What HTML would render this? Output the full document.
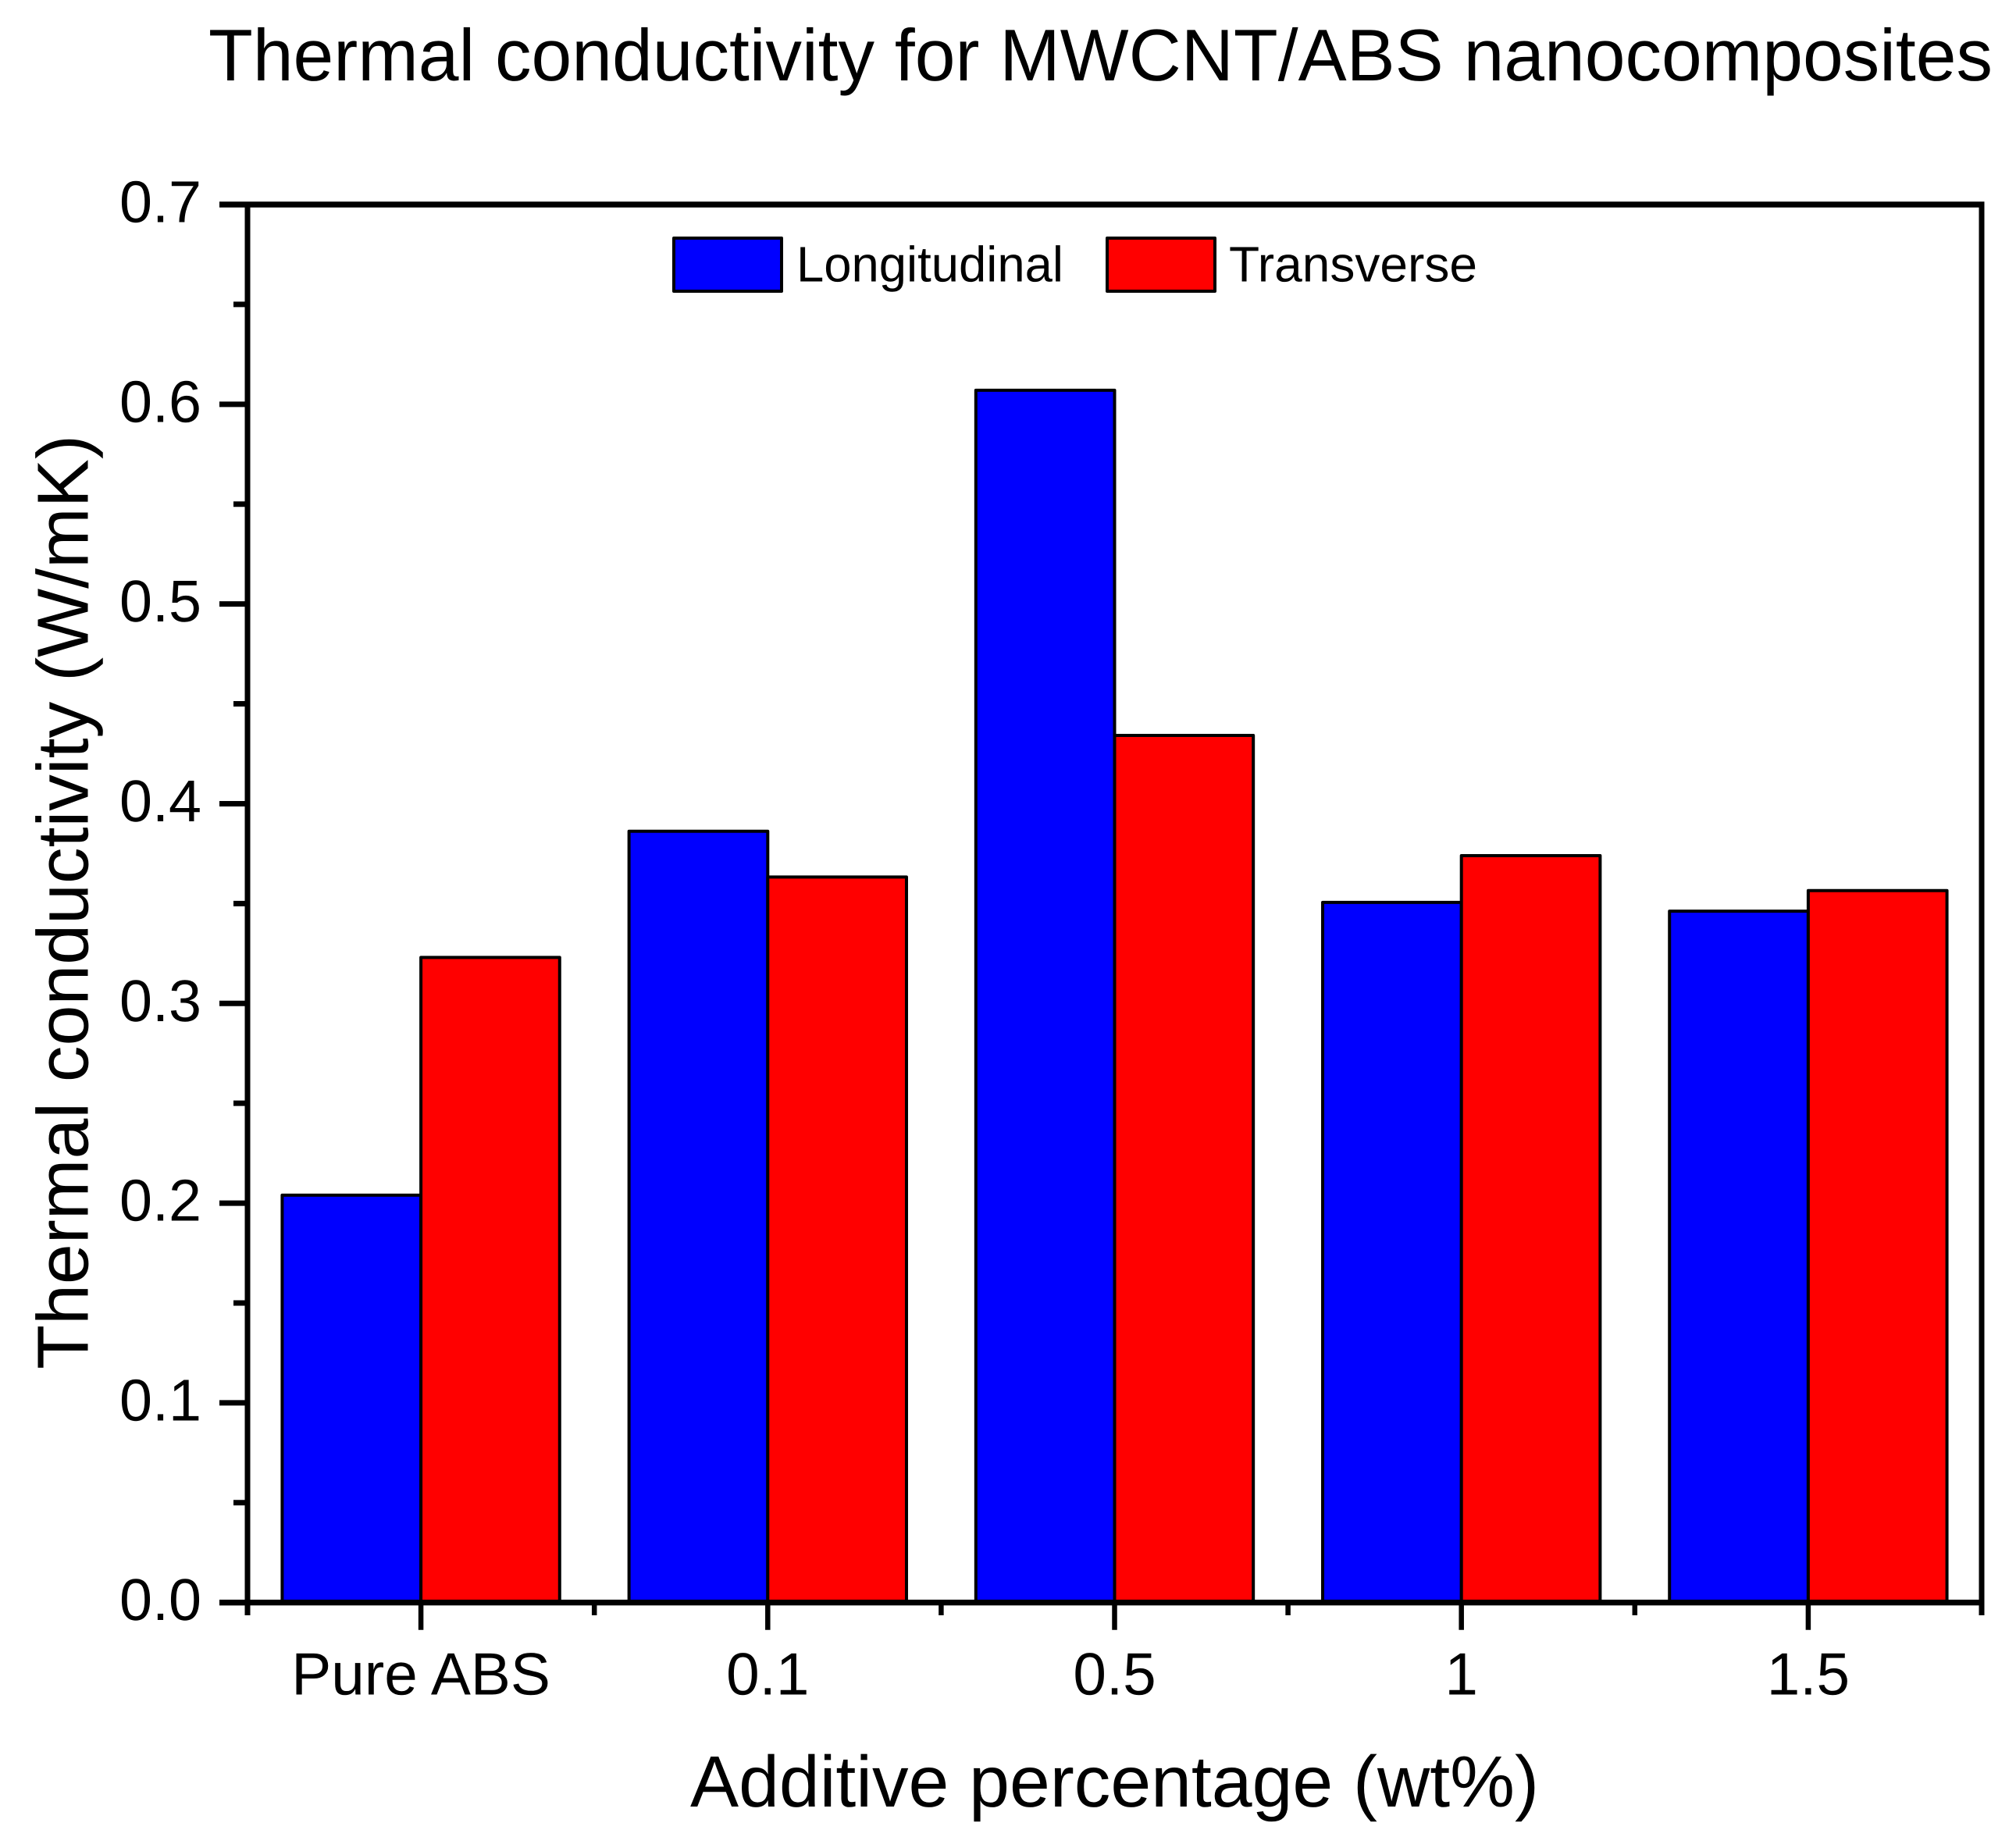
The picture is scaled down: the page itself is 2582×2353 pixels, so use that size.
<!DOCTYPE html>
<html lang="en">
<head>
<meta charset="utf-8">
<title>Thermal conductivity for MWCNT/ABS nanocomposites</title>
<style>
html,body{margin:0;padding:0;background:#fff;}
svg{display:block;}
text{font-family:"Liberation Sans",Arial,sans-serif;fill:#000;text-rendering:geometricPrecision;}
</style>
</head>
<body>
<svg id="chart" xmlns="http://www.w3.org/2000/svg" width="2582" height="2353" viewBox="0 0 2582 2353">
  <rect x="0" y="0" width="2582" height="2353" fill="#fff"/>
  <text x="267" y="103" font-size="94" textLength="2285" lengthAdjust="spacingAndGlyphs">Thermal conductivity for MWCNT/ABS nanocomposites</text>
  <g id="bars"></g>
  <g id="axes"></g>
  <text transform="translate(112.7 1754) rotate(-90)" x="0" y="0" font-size="93" textLength="1197" lengthAdjust="spacingAndGlyphs">Thermal conductivity (W/mK)</text>
  <text x="884" y="2314" font-size="93" textLength="1087" lengthAdjust="spacingAndGlyphs">Additive percentage (wt%)</text>
  <g>
    <g>
      <rect x="863" y="305" width="138" height="68" fill="#0000ff" stroke="#000" stroke-width="4" stroke-linejoin="round"/>
      <text x="1020" y="360.5" font-size="64" textLength="342" lengthAdjust="spacingAndGlyphs">Longitudinal</text>
    </g>
    <g>
      <rect x="1418" y="305" width="138" height="68" fill="#ff0000" stroke="#000" stroke-width="4" stroke-linejoin="round"/>
      <text x="1574" y="360.5" font-size="64" textLength="318" lengthAdjust="spacingAndGlyphs">Transverse</text>
    </g>
  </g>
</svg>
<script>
const categories = ["Pure ABS", "0.1", "0.5", "1", "1.5"];
const longitudinal = [0.204, 0.3862, 0.6070, 0.3506, 0.3462];
const transverse = [0.3230, 0.3633, 0.4342, 0.374, 0.3565];
const yTickValues = [0, 0.1, 0.2, 0.3, 0.4, 0.5, 0.6, 0.7];
const yTickLabels = ["0.0", "0.1", "0.2", "0.3", "0.4", "0.5", "0.6", "0.7"];
const yMax = 0.7;

const NS = "http://www.w3.org/2000/svg";
const plotLeft = 317, plotRight = 2538, plotTop = 262, plotBottom = 2052.7;
const bandWidth = (plotRight - plotLeft) / categories.length;
const barWidth = bandWidth * 0.4;

function xCenter(i) { return plotLeft + bandWidth * (i + 0.5); }
function yScale(v) { return plotBottom - (v / yMax) * (plotBottom - plotTop); }

function make(tag, attrs, parent) {
  const el = document.createElementNS(NS, tag);
  for (const k in attrs) el.setAttribute(k, attrs[k]);
  parent.appendChild(el);
  return el;
}

const barsGroup = document.getElementById("bars");
const axesGroup = document.getElementById("axes");

function drawBar(i, value, side, color, seriesName) {
  const x = side < 0 ? xCenter(i) - barWidth : xCenter(i);
  const top = yScale(value);
  const bar = make("rect", {
    x: x, y: top, width: barWidth, height: plotBottom - top,
    fill: color, stroke: "#000", "stroke-width": 4, "stroke-linejoin": "round"
  }, barsGroup);
  
  
}

categories.forEach(function (c, i) {
  drawBar(i, longitudinal[i], -1, "#0000ff", "longitudinal");
  drawBar(i, transverse[i], 1, "#ff0000", "transverse");
});

function drawLine(x1, y1, x2, y2, w, name) {
  const line = make("line", { x1: x1, y1: y1, x2: x2, y2: y2, stroke: "#000", "stroke-width": w }, axesGroup);
  
  
}

drawLine(281, plotTop, plotRight + 3.5, plotTop, 7.4, "top-axis-line");
drawLine(plotLeft, plotTop, plotLeft, 2069, 7, "y-axis-line");
drawLine(plotRight, plotTop, plotRight, 2069, 7, "right-axis-line");
drawLine(281, plotBottom, plotRight + 3.5, plotBottom, 7.4, "x-axis-line");

yTickValues.forEach(function (v, i) {
  const y = yScale(v);
  drawLine(281, y, plotLeft, y, 7, "y-major-tick");
  if (i < yTickValues.length - 1) {
    const ym = yScale((v + yTickValues[i + 1]) / 2);
    drawLine(299, ym, plotLeft, ym, 7, "y-minor-tick");
  }
  const label = make("text", { x: 258, y: y + 22.5, "font-size": 75.5, "text-anchor": "end" }, axesGroup);
  label.textContent = yTickLabels[i];
  
  
});

categories.forEach(function (c, i) {
  const x = xCenter(i);
  drawLine(x, plotBottom, x, 2087.7, 6.5, "x-major-tick");
  const label = make("text", { x: x, y: 2170.5, "font-size": 76.5, "text-anchor": "middle" }, axesGroup);
  label.textContent = c;
  
  
});
for (let i = 1; i < categories.length; i++) {
  const x = plotLeft + bandWidth * i;
  drawLine(x, plotBottom, x, 2069, 6.5, "x-minor-tick");
}
</script>
</body>
</html>
